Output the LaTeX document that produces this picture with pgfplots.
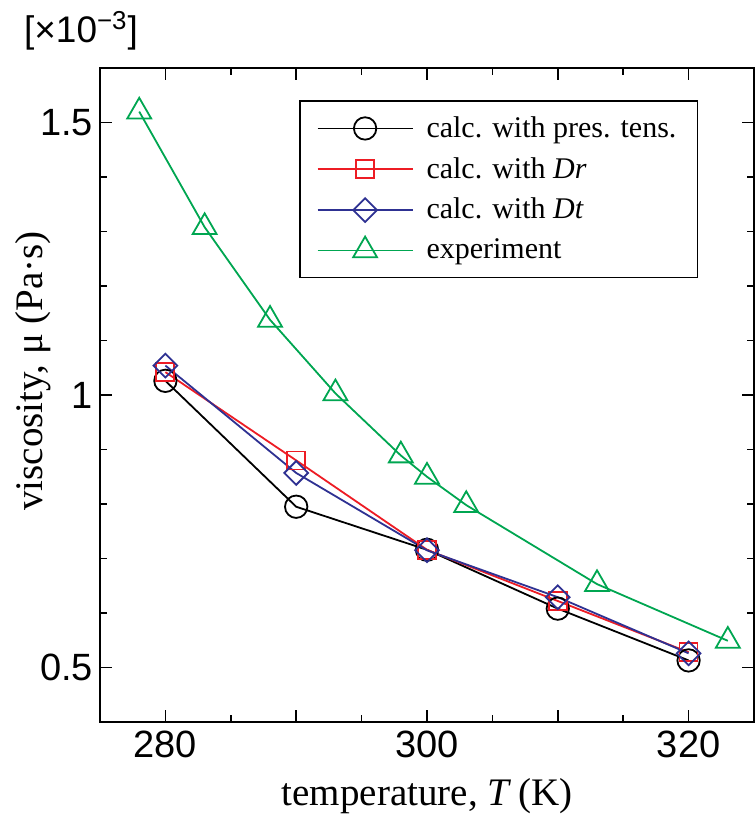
\documentclass[border=0pt]{standalone}
\usepackage{pgfplots}
\pgfplotsset{compat=1.18}
\usepackage{fontspec}
\setmainfont{Liberation Serif}
\newfontfamily\sansf{Liberation Sans}
\definecolor{cred}{HTML}{ED1C24}
\definecolor{cblue}{HTML}{2E3192}
\definecolor{cgreen}{HTML}{00A651}
\begin{document}
\begin{tikzpicture}
\begin{axis}[
  scale only axis, width=327pt, height=327pt,
  xmin=275, xmax=325, ymin=0.4, ymax=1.6,
  xtick={280,290,300,310,320}, xticklabels={280,,300,,320},
  minor xtick={285,295,305,315},
  ytick={0.5,1,1.5}, yticklabels={0.5,1,1.5},
  minor ytick={0.6,0.7,0.8,0.9,1.1,1.2,1.3,1.4},
  tick align=inside,
  major tick length=6pt, minor tick length=3.5pt,
  every tick/.style={black, line width=0.8pt},
  axis line style={line width=1pt},
  ticklabel style={font=\fontsize{19}{22}\selectfont\sansf},
  xticklabel style={yshift=-1pt},
  /pgf/number format/assume math mode=true,
  clip=false,
  every axis x label/.style={at={([yshift=-41.5pt]axis description cs:0.5,0)}, anchor=base, font=\fontsize{19.5}{23}\selectfont},
  every axis y label/.style={at={([xshift=-28.5pt]axis description cs:0,0.537)}, rotate=90, anchor=base, font=\fontsize{19.5}{23}\selectfont},
  xlabel={temperature, \textit{T}\,(K)},
  ylabel={viscosity, μ (Pa·s)},
  legend style={at={(axis description cs:0.304,0.951)}, anchor=north west, draw=black, line width=0.9pt,
    font=\fontsize{15}{18}\selectfont, inner xsep=8.5pt, inner ysep=5.8pt, row sep=4.5pt,
    nodes={inner xsep=2pt},
    /tikz/every odd column/.append style={column sep=4.5pt}},
  legend cell align=left,
  legend image code/.code={\draw[mark repeat=2,mark phase=2,#1] plot coordinates {(0pt,0pt) (23.75pt,0pt) (47.5pt,0pt)};},
]
\addplot[black, line width=0.9pt, mark=o, mark size=5.6pt, mark options={solid, fill=white}] coordinates {
 (280,1.026) (290,0.795) (300,0.716) (310,0.608) (320,0.513)};
\addlegendentry{calc. with pres. tens.}
\addplot[cred, line width=0.9pt, mark=square, mark size=4.5pt, mark options={solid, fill=white}] coordinates {
 (280,1.042) (290,0.880) (300,0.716) (310,0.622) (320,0.528)};
\addlegendentry{calc. with \textit{Dr}}
\addplot[cblue, line width=0.9pt, mark=square, mark size=4.2pt, mark options={solid, fill=white, rotate=45}] coordinates {
 (280,1.054) (290,0.857) (300,0.715) (310,0.629) (320,0.526)};
\addlegendentry{calc. with \textit{Dt}}
\addplot[cgreen, line width=0.9pt, mark=triangle, mark size=6.9pt, mark options={solid, fill=white}] coordinates {
 (278,1.520) (283,1.308) (288,1.138) (293,1.003) (298,0.889) (300,0.850) (303,0.798) (313,0.653) (323,0.549)};
\addlegendentry{experiment}
\node[anchor=base west, font=\fontsize{18.5}{22}\selectfont\sansf] at ([xshift=-41.5pt,yshift=13pt]axis description cs:0,1) {[×10\textsuperscript{−3}]};
\end{axis}
\path (current axis.south west) ++(-50pt,-49.5pt) (current axis.north east) ++(1pt,34pt);
\end{tikzpicture}
\end{document}
